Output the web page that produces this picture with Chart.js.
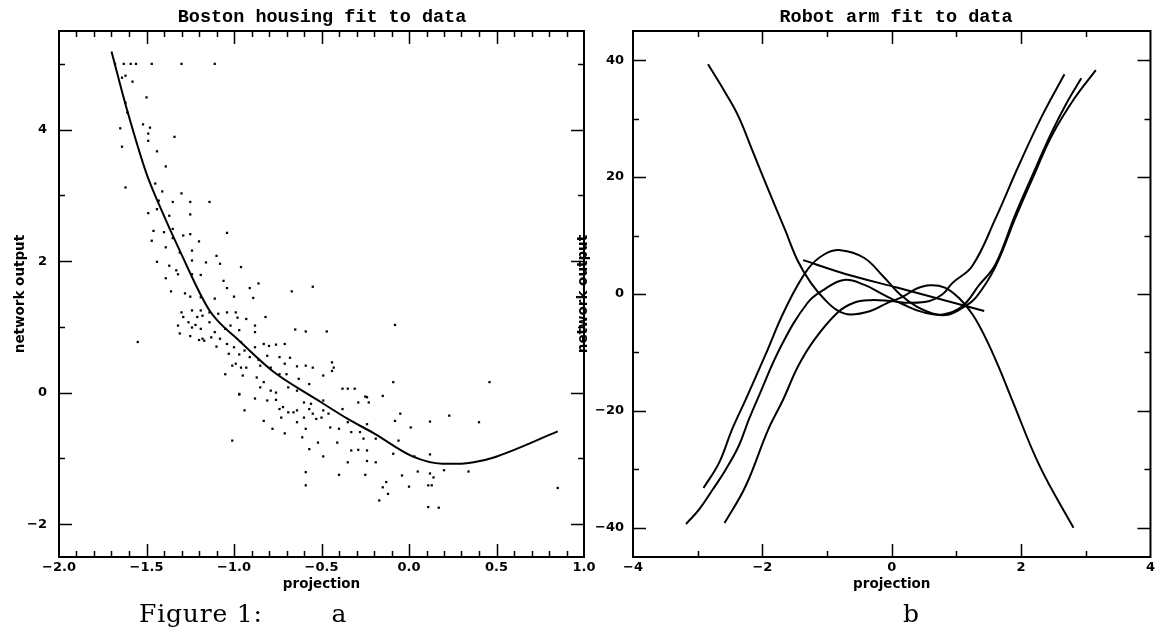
<!DOCTYPE html>
<html><head><meta charset="utf-8">
<script src="https://cdn.jsdelivr.net/npm/chart.js@4.4.1/dist/chart.umd.min.js"></script>
<style>
html,body{margin:0;padding:0;background:#fff;width:1158px;height:629px;overflow:hidden;position:relative;}
canvas{position:absolute;top:0;}
.t{position:absolute;font-family:"Liberation Mono",monospace;font-weight:bold;font-size:18.5px;line-height:18.5px;top:9px;width:400px;text-align:center;color:#000;white-space:nowrap;}
.cap{position:absolute;font-family:"DejaVu Serif",serif;font-size:25px;line-height:25px;top:601px;color:#000;white-space:nowrap;}
</style></head><body>
<canvas id="boston" width="600" height="629" style="left:0"></canvas>
<canvas id="robot" width="598" height="629" style="left:560px"></canvas>
<div class="t" style="left:122px">Boston housing fit to data</div>
<div class="t" style="left:696px">Robot arm fit to data</div>
<div class="cap" style="left:139px;letter-spacing:0.8px">Figure 1:</div>
<div class="cap" style="left:319px;width:40px;text-align:center">a</div>
<div class="cap" style="left:891px;width:40px;text-align:center">b</div>
<script>
// ---------- tick labels ----------
const bostonXTicks = [-2, -1.5, -1, -0.5, 0, 0.5, 1];
const bostonYTicks = [-2, 0, 2, 4];
const robotXTicks = [-4, -2, 0, 2, 4];
const robotYTicks = [-40, -20, 0, 20, 40];

// ---------- Boston housing: data points (projection, output) ----------
const bostonPoints = [
 [-1.68,5.0],[-1.63,5.0],[-1.59,5.0],[-1.56,5.0],[-1.47,5.0],[-1.30,5.0],[-1.11,5.0],
 [-1.62,4.82],[-1.64,4.79],[-1.58,4.73],[-1.50,4.49],[-1.62,4.41],[-1.61,4.26],[-1.65,4.02],[-1.52,4.08],
 [-1.48,4.03],[-1.49,3.94],[-1.34,3.89],[-1.64,3.74],[-1.49,3.83],[-1.44,3.67],[-1.39,3.44],[-1.62,3.12],
 [-1.45,3.18],[-1.41,3.06],[-1.30,3.03],[-1.35,2.90],[-1.25,2.90],[-1.14,2.90],[-1.43,2.92],
 [-1.49,2.73],[-1.37,2.69],[-1.25,2.71],[-1.44,2.79],[-1.46,2.46],[-1.40,2.44],[-1.35,2.49],[-1.29,2.39],
 [-1.25,2.41],[-1.04,2.43],[-1.47,2.31],[-1.39,2.21],[-1.35,2.35],[-1.31,2.13],[-1.24,2.16],[-1.20,2.30],
 [-1.10,2.08],[-1.44,1.99],[-1.37,1.93],[-1.33,1.86],[-1.24,2.01],[-1.16,1.98],[-1.08,1.96],[-0.96,1.91],
 [-1.39,1.74],[-1.32,1.80],[-1.24,1.80],[-1.19,1.79],[-1.06,1.70],[-0.86,1.66],[-0.91,1.59],[-1.04,1.59],
 [-1.36,1.54],[-1.28,1.51],[-1.25,1.46],[-1.19,1.45],[-1.11,1.43],[-1.00,1.46],[-0.89,1.44],[-0.67,1.54],
 [-0.55,1.61],
 [-1.30,1.22],[-1.29,1.15],[-1.24,1.25],[-1.19,1.25],[-1.21,1.15],[-1.18,1.17],[-1.14,1.22],[-1.09,1.20],
 [-1.04,1.22],[-0.99,1.22],[-0.98,1.14],[-0.93,1.12],[-0.82,1.15],[-1.32,1.02],[-1.31,0.90],[-1.24,0.99],
 [-1.22,1.03],[-1.19,0.97],[-1.14,1.07],[-1.11,0.92],[-1.05,0.97],[-1.02,1.02],[-0.97,0.95],[-0.88,1.02],
 [-0.88,0.92],[-1.25,0.86],[-1.20,0.80],[-1.17,0.79],[-1.13,0.84],[-1.08,0.82],[-1.04,0.74],[-1.00,0.69],
 [-0.96,0.77],[-0.94,0.64],[-0.88,0.69],[-0.83,0.74],[-0.80,0.71],[-0.76,0.73],[-0.71,0.74],[-1.55,0.77],
 [-1.26,1.07],[-1.18,0.82],[-1.10,0.70],[-0.65,0.96],[-0.59,0.93],[-0.47,0.93],
 [-1.03,0.59],[-0.97,0.58],[-0.91,0.54],[-0.86,0.50],[-0.81,0.56],[-0.74,0.54],[-0.68,0.53],[-0.99,0.44],
 [-1.01,0.41],[-0.93,0.38],[-0.85,0.41],[-0.79,0.38],[-0.71,0.44],[-0.64,0.40],[-0.59,0.41],[-0.55,0.38],
 [-0.44,0.46],[-0.43,0.38],[-1.05,0.28],[-0.95,0.26],[-0.87,0.23],[-0.83,0.16],[-0.74,0.28],[-0.70,0.28],
 [-0.63,0.21],[-0.57,0.13],[-0.49,0.26],[-0.44,0.33],[-0.85,0.08],[-0.79,0.03],[-0.76,0.00],[-0.69,0.08],
 [-0.64,0.03],[-0.97,-0.02],[-0.81,-0.12],[-0.76,-0.11],[-0.60,-0.15],[-0.56,-0.17],[-0.49,-0.12],[-0.38,0.06],
 [-0.35,0.06],[-0.31,0.06],[-0.24,-0.07],[-0.23,-0.15],[-0.15,-0.05],[-0.94,-0.27],[-0.74,-0.25],[-0.69,-0.30],
 [-0.64,-0.27],[-0.57,-0.25],[-0.49,-0.27],[-0.46,-0.32],[-0.38,-0.25],[-0.73,-0.38],[-0.60,-0.38],[-0.53,-0.40],
 [-0.96,0.38],[-0.97,-0.03],[-0.88,-0.09],[-1.01,-0.73],
 [-0.83,-0.43],[-0.78,-0.55],[-0.71,-0.62],[-0.72,-0.22],[-0.66,-0.30],[-0.64,-0.45],[-0.61,-0.68],[-0.59,-0.55],
 [-0.57,-0.86],[-0.59,-1.21],[-0.59,-1.41],[-0.52,-0.76],[-0.49,-0.97],[-0.55,-0.32],[-0.50,-0.38],[-0.45,-0.53],
 [-0.40,-0.55],[-0.41,-0.76],[-0.40,-1.25],[-0.35,-0.45],[-0.35,-1.06],[-0.33,-0.60],[-0.33,-0.88],[-0.29,-0.87],
 [-0.28,-0.60],[-0.26,-0.70],[-0.24,-0.48],[-0.24,-0.88],[-0.24,-1.04],[-0.25,-1.25],[-0.19,-1.06],[-0.19,-0.70],
 [-0.29,-0.15],[-0.25,-0.06],[-0.17,-1.64],[-0.13,-1.36],[-0.12,-1.54],[-0.15,-1.44],[-0.09,-0.93],[-0.06,-0.73],
 [-0.08,-0.43],[-0.05,-0.32],[0.01,-0.53],[-0.04,-1.26],[0.00,-1.43],[0.03,-0.97],[0.05,-1.20],[0.12,-0.94],
 [0.12,-1.23],[0.14,-1.29],[0.11,-1.41],[0.13,-1.41],[0.11,-1.74],[0.17,-1.75],[0.20,-1.18],[0.34,-1.20],
 [0.12,-0.44],[0.23,-0.35],[0.40,-0.45],[0.46,0.16],[0.85,-1.45],[-0.09,0.16],[-0.08,1.03]
];
// ---------- Boston housing: fitted curve ----------
const bostonCurveX = [-1.70,-1.61,-1.50,-1.43,-1.31,-1.14,-0.97,-0.78,-0.58,-0.50,-0.35,-0.20,0.02,0.19,0.30,0.37,0.48,0.85];
const bostonCurveY = [5.19,4.29,3.33,2.87,2.16,1.25,0.79,0.33,-0.02,-0.15,-0.40,-0.62,-0.97,-1.08,-1.08,-1.06,-0.99,-0.59];

// ---------- Robot arm: fitted curves ----------
const robotAX = [-2.84,-2.57,-2.37,-2.16,-1.91,-1.65,-1.45,-1.25,-1.04,-0.84,-0.64,-0.33,-0.08,0.18,0.38,0.59,0.82,1.04,1.25,1.45,1.65,1.86,2.29,2.81];
const robotAY = [39.3,34.4,30.4,24.7,17.9,11.0,5.6,1.9,-0.9,-2.8,-3.5,-2.9,-1.6,-0.4,0.9,1.5,1.1,-0.7,-3.5,-7.5,-12.4,-18.1,-29.5,-40.0];
const robotBX = [-3.18,-2.98,-2.77,-2.57,-2.37,-2.21,-2.08,-1.71,-1.30,-1.04,-0.74,-0.43,-0.13,0.18,0.48,0.79,1.09,1.35,1.60,1.91,2.21,2.47,2.70,2.93];
const robotBY = [-39.35,-36.9,-33.5,-30.1,-26.1,-21.5,-18.1,-8.9,-1.5,0.8,2.4,1.6,-0.1,-1.8,-3.1,-3.5,-2.1,1.5,5.0,13.6,21.2,27.6,32.6,36.9];
const robotCX = [-2.91,-2.67,-2.47,-2.26,-1.96,-1.65,-1.30,-1.04,-0.79,-0.43,-0.13,0.13,0.38,0.69,0.89,1.09,1.30,1.60,1.91,2.21,2.47,2.82,3.155];
const robotCY = [-33.2,-28.9,-23.2,-18.1,-10.6,-2.65,4.2,6.8,7.5,6.2,3.0,-0.1,-2.1,-3.5,-3.5,-2.4,-0.6,4.6,13.0,20.6,27.0,33.4,38.3];
const robotDX = [-2.585,-2.26,-1.91,-1.68,-1.45,-1.195,-0.84,-0.585,-0.33,-0.03,0.28,0.585,0.79,0.94,1.245,1.60,1.96,2.32,2.67];
const robotDY = [-39.2,-32.9,-23.2,-18.1,-12.4,-7.8,-3.2,-1.5,-1.06,-1.2,-1.5,-1.2,0.0,1.9,4.8,12.8,21.9,30.4,37.6];
const robotEX = [-1.37,-0.69,0.08,1.43];
const robotEY = [5.8,3.35,1.1,-2.9];

// ---------- helpers ----------
const xy = (xs, ys) => xs.map((x, i) => ({x: x, y: ys[i]}));
const minus = s => s.replace('-', '\u2212');

const frameTicks = {
  id: 'frameTicks',
  afterDatasetsDraw(chart, _args, o) {
    const {ctx, chartArea: a} = chart;
    const sx = chart.scales.x, sy = chart.scales.y;
    ctx.save();
    ctx.strokeStyle = '#000';
    ctx.lineWidth = 1.5;
    ctx.beginPath();
    const marks = (scale, step, major, horiz) => {
      const k0 = Math.ceil(scale.min / step - 1e-9), k1 = Math.floor(scale.max / step + 1e-9);
      for (let k = k0; k <= k1; k++) {
        const v = k * step;
        if (Math.abs(v - scale.min) < 1e-9 || Math.abs(v - scale.max) < 1e-9) continue;
        const isMajor = Math.abs(v / major - Math.round(v / major)) < 1e-6;
        const len = isMajor ? 13 : 6;
        const p = Math.round(scale.getPixelForValue(v)) + 0.5;
        if (horiz) {
          ctx.moveTo(p, a.bottom); ctx.lineTo(p, a.bottom - len);
          ctx.moveTo(p, a.top); ctx.lineTo(p, a.top + len);
        } else {
          ctx.moveTo(a.left, p); ctx.lineTo(a.left + len, p);
          ctx.moveTo(a.right, p); ctx.lineTo(a.right - len, p);
        }
      }
    };
    marks(sx, o.xStep, o.xMajor, true);
    marks(sy, o.yStep, o.yMajor, false);
    ctx.stroke();
    ctx.lineWidth = 2;
    ctx.strokeRect(a.left, a.top, a.right - a.left, a.bottom - a.top);
    ctx.restore();
  }
};

Chart.defaults.font.family = '"DejaVu Sans", sans-serif';
Chart.defaults.color = '#000';

function makeChart(id, c) {
  return new Chart(document.getElementById(id), {
    type: 'scatter',
    data: {datasets: c.datasets},
    options: {
      responsive: false, animation: false, devicePixelRatio: 1,
      layout: {padding: c.padding, autoPadding: false},
      plugins: {legend: {display: false}, tooltip: {enabled: false}, title: {display: false}, frameTicks: c.marks},
      scales: {
        x: {
          type: 'linear', min: c.xMin, max: c.xMax,
          grid: {display: false, drawTicks: false}, border: {display: false},
          afterBuildTicks: s => { s.ticks = c.xTicks.map(v => ({value: v})); },
          afterFit: s => { s.height = 72; },
          ticks: {autoSkip: false, maxRotation: 0, minRotation: 0, padding: 3, color: '#000',
                  font: {size: 13, weight: 'bold'}, callback: c.xFmt},
          title: {display: true, text: 'projection', color: '#000', font: {size: 13.5, weight: 'bold'},
                  padding: {top: 0, bottom: 36}}
        },
        y: {
          type: 'linear', min: c.yMin, max: c.yMax,
          grid: {display: false, drawTicks: false}, border: {display: false},
          afterBuildTicks: s => { s.ticks = c.yTicks.map(v => ({value: v})); },
          afterFit: s => { s.width = c.yWidth; },
          ticks: {autoSkip: false, padding: c.yPad, color: '#000', font: {size: 13, weight: 'bold'},
                  callback: v => minus(String(v))},
          title: {display: true, text: 'network output', color: '#000', font: {size: 13.5, weight: 'bold'},
                  padding: {top: c.yTitlePad, bottom: 0}}
        }
      }
    },
    plugins: [frameTicks]
  });
}

const curveStyle = {showLine: true, pointRadius: 0, borderColor: '#000', borderWidth: 2,
                    cubicInterpolationMode: 'default', tension: 0.4, fill: false};

makeChart('boston', {
  padding: {top: 31, right: 16, left: 0, bottom: 0},
  xMin: -2, xMax: 1, yMin: -2.5, yMax: 5.5,
  xTicks: bostonXTicks, yTicks: bostonYTicks,
  xFmt: v => minus(Number(v).toFixed(1)),
  yWidth: 59, yPad: 12, yTitlePad: 12,
  marks: {xStep: 0.1, xMajor: 0.5, yStep: 1, yMajor: 2},
  datasets: [
    {data: bostonPoints.map(p => ({x: p[0], y: p[1]})), showLine: false, pointStyle: 'rect',
     pointRadius: 1.6, backgroundColor: '#000', borderWidth: 0},
    Object.assign({data: xy(bostonCurveX, bostonCurveY)}, curveStyle, {cubicInterpolationMode: 'monotone'})
  ]
});

makeChart('robot', {
  padding: {top: 31, right: 1, left: 0, bottom: 0},
  xMin: -4, xMax: 4, yMin: -45, yMax: 45,
  xTicks: robotXTicks, yTicks: robotYTicks,
  xFmt: v => minus(String(v)),
  yWidth: 73, yPad: 9, yTitlePad: 15,
  marks: {xStep: 1, xMajor: 2, yStep: 10, yMajor: 20},
  datasets: [
    Object.assign({data: xy(robotAX, robotAY)}, curveStyle),
    Object.assign({data: xy(robotBX, robotBY)}, curveStyle),
    Object.assign({data: xy(robotCX, robotCY)}, curveStyle),
    Object.assign({data: xy(robotDX, robotDY)}, curveStyle),
    Object.assign({data: xy(robotEX, robotEY)}, curveStyle, {tension: 0.3})
  ]
});
</script>
</body></html>
